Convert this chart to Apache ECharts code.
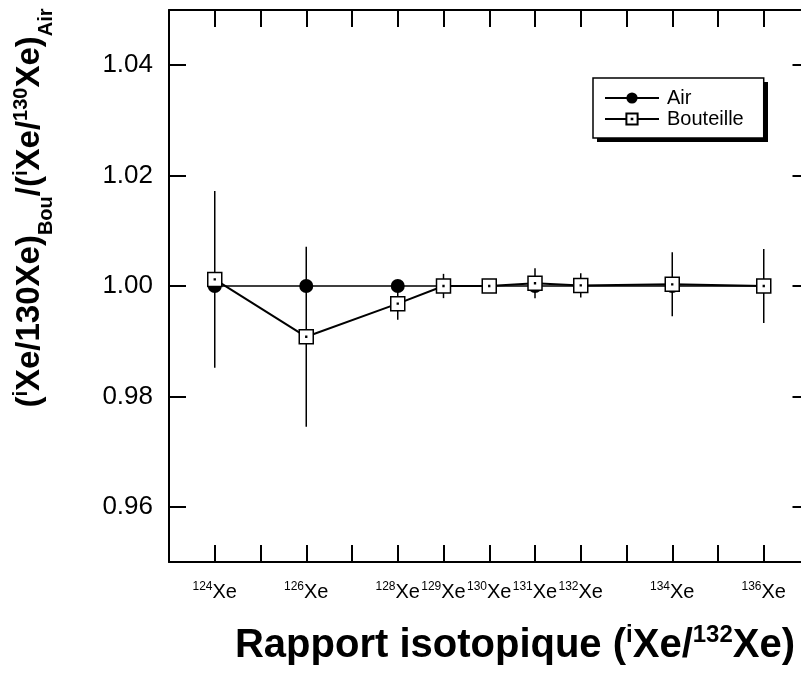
<!DOCTYPE html>
<html>
<head>
<meta charset="utf-8">
<script src="https://cdn.jsdelivr.net/npm/echarts@6/dist/echarts.min.js"></script>
<style>
  html, body { margin: 0; padding: 0; background: #fff; }
  #chart { width: 801px; height: 674px; }
</style>
</head>
<body>
<div id="chart"></div>
<script>
// isotopes (mass numbers) on the x axis
const isotopes = [124, 126, 128, 129, 130, 131, 132, 134, 136]
// normalised ratios
const airValues = [1, 1, 1, 1, 1, 1, 1, 1, 1]
const bouValues = [1.0012, 0.9908, 0.9968, 1.0000, 1.0000, 1.0005, 1.0001, 1.0003, 1.0000]
// 1 sigma on the bottle ratios
const bouErrors = [0.016, 0.0163, 0.0029, 0.0022, 0, 0.0027, 0.0022, 0.0058, 0.0067]
const yTicks = [0.96, 0.98, 1.00, 1.02, 1.04]

const FONT = '"Liberation Sans", Arial, Helvetica, sans-serif'
const squareDot = 'path://M0,0H20V20H0Z M9.4,9.4H10.6V10.6H9.4Z'

const chart = echarts.init(document.getElementById('chart'))

const axisCommon = {
  type: 'value',
  axisLine: { show: true, lineStyle: { color: '#000', width: 2 } },
  axisTick: { show: true, inside: true, length: 17, lineStyle: { color: '#000', width: 2 } },
  splitLine: { show: false }
}

const option = {
  backgroundColor: '#fff',
  animation: false,
  grid: { left: 169, top: 10, width: 640.5, height: 552, outerBoundsMode: 'none', containLabel: false },
  legend: {
    left: 593, top: 78,
    orient: 'vertical',
    itemWidth: 54, itemHeight: 14, itemGap: 1,
    padding: [10, 20, 9, 11],
    backgroundColor: '#fff',
    borderColor: '#000', borderWidth: 1.5, borderRadius: 0,
    textStyle: { fontFamily: FONT, fontSize: 20, lineHeight: 20, color: '#000', padding: [0, 0, 0, 3] },
    data: ['Air', 'Bouteille']
  },
  xAxis: [
    Object.assign({}, axisCommon, {
      min: 123, max: 137, interval: 1,
      axisLabel: {
        show: true,
        margin: 19,
        customValues: isotopes,
        formatter: v => '{s|' + v + '}{b|Xe}',
        rich: {
          s: { fontFamily: FONT, fontSize: 12, color: '#000', verticalAlign: 'top', lineHeight: 22 },
          b: { fontFamily: FONT, fontSize: 20, color: '#000', lineHeight: 22 }
        }
      }
    }),
    Object.assign({}, axisCommon, {
      position: 'top', min: 123, max: 137, interval: 1,
      axisLabel: { show: false }
    })
  ],
  yAxis: [
    Object.assign({}, axisCommon, {
      min: 0.95, max: 1.05,
      axisTick: Object.assign({}, axisCommon.axisTick, { customValues: yTicks }),
      axisLabel: {
        show: true,
        margin: 16,
        customValues: yTicks,
        formatter: v => v.toFixed(2),
        fontFamily: FONT, fontSize: 26, color: '#000'
      }
    }),
    Object.assign({}, axisCommon, {
      position: 'right', min: 0.95, max: 1.05,
      axisTick: Object.assign({}, axisCommon.axisTick, { customValues: yTicks }),
      axisLabel: { show: false }
    })
  ],
  graphic: [
    {
      // legend drop shadow
      type: 'rect',
      z: 0,
      shape: { x: 597, y: 82, width: 171, height: 60 },
      style: { fill: '#000' }
    },
    {
      type: 'text',
      x: 30, y: 208, rotation: Math.PI / 2,
      style: {
        text: '({p|i}Xe/130Xe){d|Bou}/({p|i}Xe/{p|130}Xe){d|Air}',
        fontFamily: FONT, fontSize: 33, fontWeight: 'bold', fill: '#000',
        align: 'center', verticalAlign: 'middle',
        rich: {
          p: { fontFamily: FONT, fontSize: 20, fontWeight: 'bold', verticalAlign: 'top', lineHeight: 38 },
          d: { fontFamily: FONT, fontSize: 20, fontWeight: 'bold', verticalAlign: 'bottom', lineHeight: 38, padding: [0, 0, -7, 0] }
        }
      }
    },
    {
      type: 'text',
      x: 515, y: 646,
      style: {
        text: 'Rapport isotopique ({p|i}Xe/{p|132}Xe)',
        fontFamily: FONT, fontSize: 40, fontWeight: 'bold', fill: '#000',
        align: 'center', verticalAlign: 'middle',
        rich: {
          p: { fontFamily: FONT, fontSize: 24, fontWeight: 'bold', verticalAlign: 'top', lineHeight: 46 }
        }
      }
    }
  ],
  series: [
    {
      name: 'errors',
      type: 'custom',
      z: 1,
      silent: true,
      data: isotopes.map((x, i) => [x, bouValues[i] - bouErrors[i], bouValues[i] + bouErrors[i]]),
      renderItem: (params, api) => {
        const lo = api.coord([api.value(0), api.value(1)])
        const hi = api.coord([api.value(0), api.value(2)])
        return {
          type: 'line',
          shape: { x1: lo[0], y1: lo[1], x2: hi[0], y2: hi[1] },
          style: { stroke: '#000', lineWidth: 1.5 }
        }
      }
    },
    {
      name: 'Air',
      type: 'line',
      z: 2,
      data: isotopes.map((x, i) => [x, airValues[i]]),
      symbol: 'circle',
      symbolSize: 14,
      itemStyle: { color: '#000' },
      lineStyle: { color: '#000', width: 1.5 }
    },
    {
      name: 'Bouteille',
      type: 'line',
      z: 3,
      data: isotopes.map((x, i) => [x, bouValues[i]]),
      symbol: squareDot,
      symbolSize: 14,
      symbolKeepAspect: true,
      itemStyle: { color: '#fff', borderColor: '#000', borderWidth: 1.5 },
      lineStyle: { color: '#000', width: 2 }
    }
  ]
}

chart.setOption(option)
window.addEventListener('resize', () => chart.resize())
</script>
</body>
</html>
